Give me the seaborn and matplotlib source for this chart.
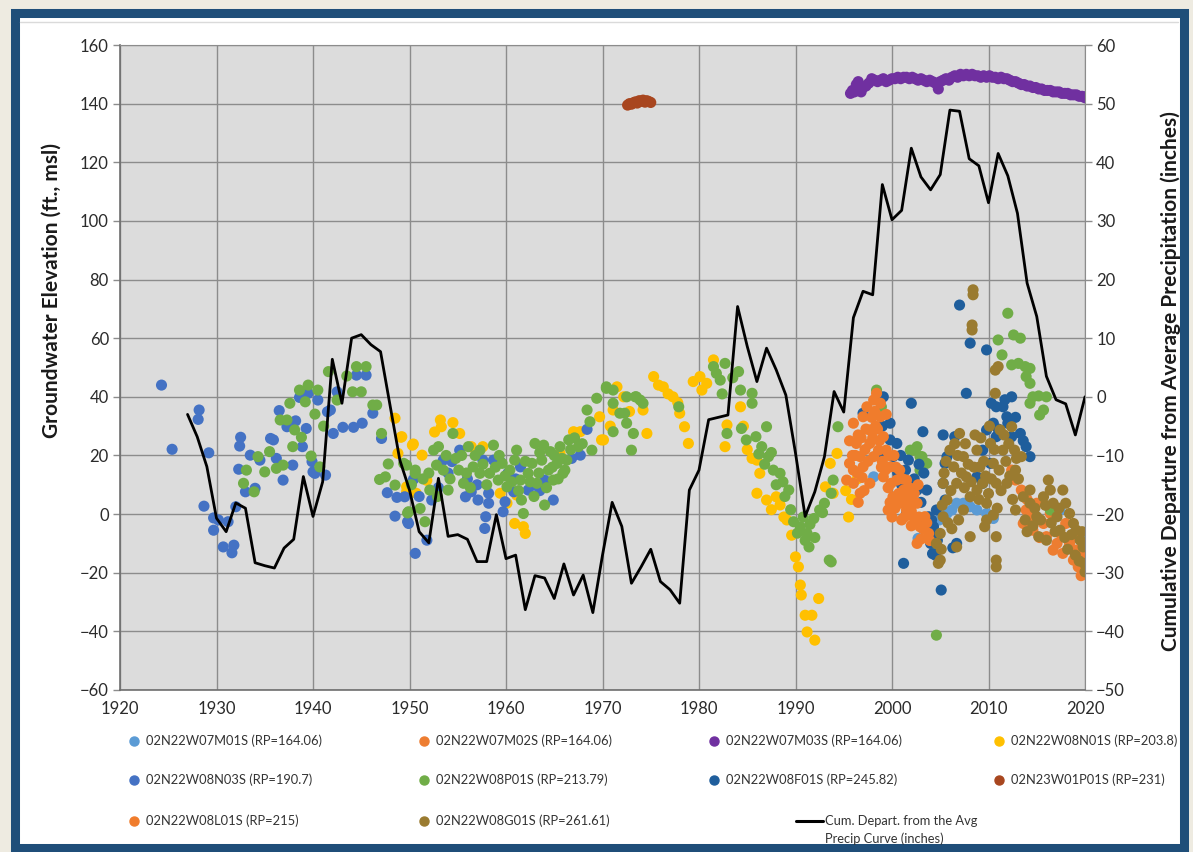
import matplotlib
matplotlib.use('Agg')
import matplotlib.pyplot as plt
from matplotlib.patches import Rectangle
from matplotlib.lines import Line2D
import pandas as pd
import seaborn as sns

sns.set_style('white')
plt.rcParams['font.family'] = ['Lato', 'DejaVu Sans']

# ---- data (year, ft msl) ----
m01s_yr = [1998.1, 2002.7, 2005.7, 2006.2, 2006.7, 2007.4, 2008.1, 2008.8, 2009.8, 2017.4, 2020.2, 2004.9, 2010.5]
m01s_ft = [12.7, -8.3, 0.2, 1.4, 3.7, 3.7, 2.5, 1.4, 0.2, 1.4, -8.9, -2.0, -1.5]

m02s_yr = [2013.4, 2013.9, 2013.6, 2014.3, 2014.6, 2015.0, 2015.7, 2016.0, 2016.4, 2016.7, 2017.1, 2017.7,
           2018.4, 2018.8, 2019.3, 2019.8, 2019.9, 2019.1, 2018.0, 2012.8, 2012.4, 2014.0, 2015.3, 2017.4,
           2018.9, 2019.6, 2020.0]
m02s_ft = [8.2, 1.4, -3.2, -0.9, -5.5, 3.7, -3.2, -7.7, 0.2, -12.3, -10.0, -13.4,
           -10.0, -15.7, -18.0, -19.1, -14.6, -12.3, -3.2, 11.6, 15.0, 5.0, -8.0, -6.5,
           -8.0, -21.0, -17.5]

m03s_yr = [1995.7, 1995.9, 1996.1, 1996.3, 1996.5, 1996.6, 1996.8, 1997.0, 1997.3, 1997.6, 1997.9, 1998.2,
           1998.5, 1998.8, 1999.1, 1999.4, 1999.7, 2000.0, 2000.3, 2000.6, 2000.9, 2001.2, 2001.5, 2001.8,
           2002.1, 2002.4, 2002.7, 2003.0, 2003.3, 2003.6, 2003.9, 2004.2, 2004.5, 2004.8, 2005.0, 2005.3,
           2005.6, 2005.9, 2006.2, 2006.5, 2006.8, 2007.1, 2007.4, 2007.7, 2008.0, 2008.3, 2008.6, 2008.9,
           2009.2, 2009.5, 2009.8, 2010.1, 2010.4, 2010.7, 2011.0, 2011.3, 2011.6, 2011.9, 2012.2, 2012.5,
           2012.8, 2013.1, 2013.4, 2013.7, 2014.0, 2014.3, 2014.6, 2014.9, 2015.2, 2015.5, 2015.8, 2016.1,
           2016.4, 2016.7, 2017.0, 2017.3, 2017.6, 2017.9, 2018.2, 2018.5, 2018.8, 2019.1, 2019.4, 2019.7,
           2020.0, 2020.2]
m03s_ft = [143.5, 144.5, 144.0, 146.5, 147.5, 145.0, 144.0, 145.5, 146.0, 147.0, 148.5, 148.0,
           147.5, 148.0, 148.5, 147.5, 148.0, 148.5, 148.5, 149.0, 148.5, 149.0, 149.0, 148.5,
           149.0, 148.5, 148.0, 148.5, 148.0, 147.5, 148.0, 147.5, 147.0, 145.0, 147.5, 148.0,
           148.5, 148.0, 149.0, 149.5, 149.0, 150.0, 149.5, 150.0, 149.5, 150.0, 149.5, 149.5,
           149.0, 149.5, 149.0, 149.5, 149.0, 149.0, 148.5, 149.0, 148.5, 148.5, 148.0, 147.5,
           147.5, 147.0, 146.5, 146.5, 146.0, 146.0, 145.5, 145.5, 145.0, 145.0, 144.5, 144.5,
           144.5, 144.0, 144.0, 144.0, 143.5, 143.5, 143.5, 143.0, 143.0, 143.0, 142.5, 142.5,
           142.0, 142.5]

n01s_yr = [1948.5, 1949.1, 1950.4, 1948.8, 1949.7, 1953.2, 1953.3, 1954.5, 1949.2, 1950.3, 1951.3, 1955.2,
           1956.4, 1957.6, 1949.7, 1950.7, 1959.4, 1960.1, 1960.9, 1961.8, 1962.0, 1961.1, 1965.6, 1967.0,
           1967.7, 1969.9, 1969.7, 1970.1, 1971.5, 1972.2, 1971.1, 1974.2, 1974.6, 1975.3, 1976.3, 1977.3,
           1978.0, 1978.5, 1978.9, 1979.4, 1980.1, 1980.8, 1981.5, 1980.3, 1982.9, 1982.7, 1984.3, 1986.0,
           1986.3, 1986.0, 1987.0, 1988.0, 1988.4, 1989.1, 1989.6, 1990.0, 1990.3, 1990.5, 1990.6, 1991.0,
           1991.7, 1991.2, 1992.0, 1992.4, 1993.1, 1993.6, 1994.3, 1993.9, 1985.0, 1985.5, 1984.6, 1987.5,
           1988.8, 1995.2, 1995.8, 1996.4, 1995.5, 1951.8, 1952.6, 1970.8, 1972.8, 1976.8, 1975.8, 1977.8]
n01s_ft = [32.7, 26.2, 23.9, 20.7, 7.6, 32.1, 29.8, 31.2, 26.4, 23.5, 20.1, 27.5,
           23.0, 23.0, 9.3, 7.1, 7.1, 3.7, -3.2, -4.3, -6.6, 6.5, 20.7, 28.1,
           28.1, 25.3, 33.2, 25.3, 43.4, 40.0, 35.5, 35.5, 27.5, 46.9, 43.4, 40.0,
           34.4, 29.8, 24.1, 45.2, 46.9, 44.6, 52.6, 42.3, 30.4, 23.0, 36.6, 18.4,
           13.9, 7.1, 4.8, 5.9, 3.1, -2.0, -7.2, -14.6, -18.0, -24.2, -27.6, -34.5,
           -34.5, -40.2, -43.0, -28.8, 9.3, 17.3, 20.7, 7.1, 22.0, 19.0, 30.0, 1.5,
           -1.0, 8.0, 5.0, 12.0, -1.0, 11.5, 28.0, 30.0, 35.0, 41.0, 44.0, 38.0]

n03s_yr = [1924.3, 1925.4, 1928.2, 1928.1, 1929.2, 1928.7, 1929.7, 1930.2, 1929.7, 1931.2, 1930.7, 1931.6,
           1931.8, 1932.0, 1932.5, 1932.4, 1932.3, 1933.0, 1933.5, 1934.0, 1935.6, 1935.9, 1936.2, 1936.5,
           1936.9, 1937.3, 1938.2, 1938.6, 1939.5, 1939.3, 1938.9, 1937.9, 1939.9, 1940.2, 1940.5, 1941.3,
           1941.5, 1942.1, 1942.5, 1943.1, 1944.2, 1945.1, 1944.5, 1945.5, 1946.2, 1947.1, 1947.7, 1948.7,
           1948.5, 1949.8, 1950.6, 1950.4, 1949.9, 1951.8, 1952.3, 1953.5, 1954.4, 1955.2, 1955.8, 1956.4,
           1957.1, 1958.2, 1958.2, 1957.9, 1957.8, 1957.6, 1958.7, 1959.4, 1959.7, 1959.9, 1960.8, 1961.5,
           1962.3, 1964.0, 1964.9, 1966.8, 1967.7, 1968.4, 1949.5, 1934.5, 1941.8, 1940.0, 1951.0, 1953.0,
           1954.0, 1956.0, 1957.0, 1960.2, 1961.0, 1962.8, 1963.5]
n03s_ft = [44.0, 22.1, 35.5, 32.3, 20.9, 2.7, -1.3, -2.0, -5.5, -2.6, -11.2, -13.2,
           -10.6, 2.5, 26.2, 23.2, 15.3, 7.6, 20.1, 8.8, 25.8, 25.3, 19.0, 35.3,
           11.6, 29.8, 31.8, 39.8, 41.2, 29.2, 23.0, 16.7, 17.9, 13.9, 38.9, 13.3,
           34.9, 27.5, 41.7, 29.6, 29.6, 31.0, 47.4, 47.4, 34.4, 25.8, 7.3, 5.7,
           -0.7, -2.6, -13.4, 11.8, -3.2, -8.9, 4.8, 18.4, 17.9, 21.8, 5.9, 7.6,
           4.8, 3.7, 7.1, -0.9, -4.9, 18.4, 18.4, 17.9, 0.8, 4.2, 7.6, 16.1,
           8.2, 11.6, 4.8, 19.0, 20.1, 28.9, 5.9, 18.4, 35.5, 14.4, 6.0, 9.0,
           14.0, 12.0, 10.0, 14.0, 12.0, 10.0, 8.0]

p01s_yr = [1933.1, 1932.8, 1933.9, 1934.3, 1935.0, 1935.5, 1936.2, 1936.9, 1936.6, 1937.3, 1937.6, 1938.1,
           1937.9, 1938.8, 1938.6, 1939.5, 1939.2, 1940.5, 1940.2, 1939.8, 1940.7, 1941.1, 1941.6, 1942.5,
           1943.5, 1944.1, 1945.0, 1944.5, 1945.5, 1946.2, 1946.6, 1947.1, 1946.9, 1947.5, 1947.8, 1948.5,
           1949.4, 1949.8, 1950.6, 1949.7, 1949.9, 1950.6, 1951.1, 1951.6, 1952.1, 1952.5, 1952.8, 1953.0,
           1953.5, 1954.0, 1954.5, 1955.1, 1955.6, 1956.1, 1956.6, 1957.3, 1957.3, 1958.3, 1958.7, 1959.2,
           1959.6, 1960.1, 1960.4, 1960.9, 1961.1, 1961.5, 1961.6, 1961.8, 1962.3, 1962.7, 1963.0, 1963.2,
           1963.7, 1963.9, 1964.0, 1964.4, 1964.6, 1964.9, 1965.3, 1965.6, 1965.9, 1966.3, 1966.5, 1967.5,
           1968.4, 1968.7, 1968.9, 1969.4, 1970.4, 1971.1, 1971.1, 1971.8, 1972.5, 1973.0, 1973.2, 1973.5,
           1974.2, 1977.9, 1970.4, 1971.1, 1972.5, 1972.3, 1973.4, 1973.9, 1981.5, 1982.7, 1982.2, 1984.1,
           1984.3, 1985.5, 1985.5, 1982.9, 1984.4, 1984.9, 1985.9, 1986.5, 1987.0, 1987.2, 1987.7, 1988.4,
           1988.7, 1989.3, 1989.8, 1990.5, 1991.2, 1991.4, 1991.9, 1992.5, 1993.0, 1993.5, 1993.7, 1994.4,
           1993.9, 1998.4, 1998.9, 2002.2, 2002.9, 2003.6, 2004.6, 2004.5, 2012.0, 2011.0, 2011.4, 2012.6,
           2013.3, 2012.4, 2013.1, 2013.8, 2014.3, 2013.9, 2014.3, 2014.6, 2015.2, 2016.0, 2015.7, 2015.3,
           2014.3, 1993.7, 2001.9, 2002.6, 2003.1, 2002.9, 2016.4, 1990.8, 1991.5, 1992.0, 1992.8, 1990.2,
           1991.0, 1986.2, 1986.8, 1987.5, 1988.0, 1988.9, 1989.5, 1981.8, 1982.4, 1983.5,
           1950.2, 1951.4, 1952.0, 1952.9, 1953.8, 1954.2, 1954.8, 1955.4, 1955.9, 1956.3, 1956.8, 1957.6,
           1958.0, 1958.9, 1959.3, 1959.9, 1960.6, 1961.3, 1962.0, 1962.5, 1962.9, 1963.4, 1963.5, 1964.2,
           1964.8, 1965.0, 1965.4, 1965.8, 1966.1, 1966.7, 1967.1, 1967.9]
p01s_ft = [15.0, 10.5, 7.6, 19.6, 14.4, 21.3, 15.6, 16.7, 32.1, 32.1, 37.8, 28.7,
           23.0, 26.2, 42.3, 44.0, 38.3, 42.3, 34.1, 19.8, 16.1, 30.0, 48.6, 38.9,
           47.1, 41.7, 41.7, 50.3, 50.3, 37.2, 37.2, 27.5, 11.8, 12.7, 17.1, 9.9,
           17.3, 0.4, 15.0, 16.7, 0.8, 13.9, 1.9, -2.6, 8.2, 21.8, 16.7, 23.0,
           15.0, 8.2, 27.5, 15.0, 10.5, 23.0, 16.1, 21.8, 13.9, 13.9, 23.5, 11.6,
           17.3, 9.3, 15.0, 18.4, 21.8, 11.6, 4.8, 0.2, 13.9, 17.3, 24.1, 10.5,
           18.4, 23.5, 3.1, 15.0, 21.3, 11.6, 17.3, 23.0, 13.9, 18.4, 25.3, 23.0,
           35.5, 31.5, 21.8, 39.5, 42.9, 37.8, 28.1, 34.4, 31.0, 21.8, 27.5, 40.0,
           37.8, 36.6, 43.4, 42.3, 40.0, 34.4, 40.0, 38.9, 50.3, 51.4, 45.7, 48.6,
           42.3, 41.2, 37.8, 27.5, 29.2, 25.3, 26.4, 23.0, 29.8, 19.6, 15.0, 13.9,
           11.0, 8.2, -2.6, -4.3, -6.6, -11.2, -1.5, 1.4, 3.7, -15.7, 7.1, 29.8,
           11.6, 42.3, 36.6, 21.8, 19.6, 17.3, -41.3, -13.4, 68.5, 59.4, 54.3, 61.1,
           60.0, 50.9, 51.4, 50.3, 49.7, 46.9, 44.6, 40.0, 40.3, 40.0, 35.5, 33.8,
           37.8, -16.3, 21.8, 23.0, 19.6, 15.0, 1.4, -1.0, -3.5, -8.0, 0.5, -6.5,
           -9.0, 20.5, 17.0, 21.0, 10.0, 6.0, 1.5, 48.0, 41.0, 46.5,
           10.0, 12.0, 14.0, 6.0, 20.0, 12.0, 19.0, 20.0, 14.0, 9.0, 20.0, 17.0,
           10.0, 16.0, 20.0, 13.0, 11.0, 8.0, 18.0, 11.0, 6.0, 14.0, 21.0, 9.0,
           16.0, 20.0, 12.0, 19.0, 15.0, 22.0, 26.0, 24.0]

f01s_yr = [1997.0, 1999.1, 1999.8, 1999.8, 2000.1, 1998.8, 2000.5, 2001.7, 2002.0, 2001.2, 2001.5, 2002.6,
           2003.2, 2003.6, 2003.8, 2003.9, 2004.3, 2004.6, 2005.1, 2005.3, 2005.7, 2006.5, 2007.0, 2008.1,
           2009.8, 2007.7, 2010.3, 2010.8, 2011.5, 2012.4, 2011.9, 2012.4, 2013.3, 2013.9, 2014.3, 2010.8,
           2009.8, 2009.4, 2008.8, 2009.4, 2010.2, 2005.5, 2005.3, 2005.5, 2006.7, 2004.0, 2004.2, 2003.6,
           2004.4, 2001.0, 2000.6, 2006.3, 1999.0, 2000.9, 2001.4, 2002.3, 2002.8, 2003.3, 2003.0, 2004.1,
           2004.5, 2004.7, 2010.5, 2011.0, 2011.7, 2012.0, 2012.8, 2013.6]
f01s_ft = [34.4, 40.0, 31.0, 25.3, 19.6, 19.6, 24.1, 18.4, 37.8, -16.8, 0.2, 8.2,
           28.1, 8.2, -0.9, -6.6, -4.3, 1.4, -25.9, 27.0, 19.6, 26.4, 71.3, 58.3,
           56.0, 41.2, 37.8, 36.6, 36.6, 40.0, 33.2, 26.4, 27.5, 23.0, 19.6, 26.4,
           28.7, 21.8, 12.7, 10.5, 17.3, 17.3, 10.5, 4.8, -10.0, -10.0, -13.5, -3.0,
           -8.0, 10.0, 14.0, -11.5, 30.0, 20.0, 15.0, 12.0, 17.0, 14.0, 4.0, -2.0,
           -14.0, -9.0, 31.0, 29.0, 39.0, 31.0, 33.0, 25.0]

w23_yr = [1972.6, 1972.8, 1973.0, 1973.2, 1973.4, 1973.6, 1973.8, 1974.0, 1974.2, 1974.4, 1974.6, 1974.8, 1975.0]
w23_ft = [139.5, 140.0, 139.8, 140.3, 140.6, 140.2, 141.0, 140.8, 141.2, 140.5, 141.0, 140.7, 140.4]

l01s_yr = [1996.0, 1996.3, 1997.0, 1997.4, 1997.7, 1998.1, 1998.4, 1998.8, 1999.1, 1998.6, 1996.7, 1995.6,
           1995.3, 1996.0, 1996.7, 1997.0, 1996.0, 1999.4, 1999.8, 1999.9, 2000.5, 2000.5, 2000.8, 2001.2,
           2001.5, 2001.9, 2002.2, 2002.6, 2002.9, 2003.4, 2003.8, 2002.6, 2000.1, 1999.6, 1999.1, 1998.1,
           1997.7, 2000.8, 2001.5, 1997.7, 1998.8, 1996.5, 1997.2, 1998.3, 1999.4, 1996.9, 2000.2, 2001.0,
           2002.0, 2003.0, 2000.0, 1996.2, 1996.8, 1997.3, 1997.5, 1997.9, 1998.0, 1998.2, 1998.5, 1998.7,
           1999.0, 1999.3, 1999.6, 1999.8, 2000.3, 2000.7, 2001.0, 2001.3, 2001.7, 2002.0, 2002.4, 2002.8,
           2003.2, 2003.6, 2003.9, 1996.4, 1995.9, 1995.6, 1997.1, 1996.5, 1998.9, 1999.7, 2000.4, 2001.1,
           2001.8, 2002.3, 2002.7]
l01s_ft = [31.0, 24.1, 33.2, 36.6, 28.7, 38.9, 41.2, 33.2, 26.4, 21.8, 19.6, 17.3,
           11.6, 10.5, 7.1, 16.1, 15.0, 21.8, 16.1, 10.5, 11.6, 5.9, 3.7, 8.2,
           1.4, 5.9, -0.9, 3.7, -4.3, -0.9, -6.6, -10.0, 5.9, 1.4, 12.7, 19.6,
           10.5, 15.0, 11.6, 24.1, 37.8, 27.0, 22.0, 30.0, 34.0, 12.5, 20.0, -2.0,
           -4.0, -8.5, -1.0, 20.0, 26.0, 29.0, 18.0, 33.0, 26.0, 35.0, 29.0, 25.0,
           18.0, 15.0, 9.0, 4.0, 2.0, 7.0, 5.0, -1.0, 3.0, 1.0, -3.0, -1.0,
           -5.0, -3.0, -9.0, 14.0, 20.0, 25.0, 8.0, 4.0, 16.0, 20.0, 16.0, 12.0,
           9.0, 7.0, 10.0]

g01s_yr = [2008.4, 2008.4, 2008.3, 2008.3, 2010.7, 2010.7, 2005.0, 2005.0, 2004.8, 2004.6, 2005.3, 2005.3,
           2005.7, 2006.0, 2006.4, 2006.7, 2007.0, 2007.4, 2007.7, 2008.1, 2007.4, 2006.7, 2008.1, 2008.8,
           2009.1, 2009.4, 2009.8, 2010.2, 2010.5, 2010.8, 2010.8, 2010.8, 2010.8, 2011.2, 2011.5, 2011.9,
           2012.4, 2012.7, 2012.8, 2009.8, 2008.8, 2009.6, 2010.5, 2011.0, 2013.4, 2014.3, 2014.3, 2015.0,
           2015.7, 2016.2, 2016.4, 2016.7, 2017.1, 2017.4, 2017.7, 2018.0, 2018.4, 2018.8, 2019.1, 2019.5,
           2019.8, 2019.9, 2020.0, 2013.6, 2012.8, 2015.2, 2016.0, 2005.1, 2005.2, 2005.4, 2005.6, 2005.8,
           2006.1, 2006.2, 2006.5, 2006.8, 2006.9, 2007.2, 2007.5, 2007.6, 2007.9, 2008.2, 2008.5, 2008.6,
           2009.0, 2009.2, 2009.5, 2009.7, 2010.0, 2010.1, 2010.3, 2010.6, 2010.9, 2011.1, 2011.3, 2011.6,
           2011.8, 2012.1, 2012.2, 2012.5, 2012.9, 2013.1, 2013.8, 2014.0, 2014.6, 2014.8, 2015.4, 2015.9,
           2016.5, 2016.9, 2017.3, 2017.9, 2018.2, 2018.6, 2019.0, 2019.4, 2019.7]
g01s_ft = [76.5, 74.8, 64.5, 62.8, 49.1, 41.2, -6.6, -15.7, -16.8, -10.0, -0.9, 10.5,
           4.8, 21.8, 16.1, 10.5, 27.5, 19.6, 12.7, 5.9, 1.4, -11.2, -7.7, 21.8,
           16.1, 10.5, 3.7, 24.1, 17.3, 10.5, -7.7, -15.7, -18.0, 28.7, 21.8, 10.5,
           29.8, 21.8, 15.0, -2.0, 8.2, -4.3, -0.3, 50.3, 19.6, 8.2, 3.7, -0.9,
           5.9, 11.6, 8.2, 3.7, -0.9, -5.5, 8.2, 3.7, 0.2, -3.2, -5.5, -8.9,
           -11.2, -16.8, -19.7, 5.9, 1.4, -7.7, -8.9, -12.0, 3.0, 14.0, 18.0, -3.0,
           8.0, -5.0, 24.0, 20.0, -2.0, 14.0, 9.0, 24.0, 17.0, 11.0, 16.0, 27.0,
           5.0, 26.0, 18.0, 13.0, 7.0, 30.0, 12.0, 22.0, 2.0, 15.0, 8.0, 27.0,
           18.0, 24.0, 13.0, 5.0, 19.0, 12.0, -2.0, -6.0, -4.0, 2.0, -2.0, 3.0,
           -3.0, -6.0, 2.0, -8.0, -12.0, -7.0, -14.0, -16.0, -6.0]

# cumulative departure from average precipitation (inches), one value per year
precip_yr = list(range(1927, 2021))
precip_in = [-3.0, -6.8, -11.9, -20.7, -23.0, -18.1, -19.0, -28.3, -28.8, -29.2, -25.8, -24.3,
             -13.6, -20.4, -14.5, 6.4, -1.1, 10.0, 10.6, 8.9, 7.7, -1.6, -10.8, -15.9,
             -23.0, -24.9, -13.9, -23.8, -23.5, -24.3, -28.1, -28.1, -20.1, -27.6, -27.0, -36.3,
             -30.5, -30.9, -34.4, -28.5, -33.8, -30.4, -36.8, -27.0, -18.0, -22.1, -31.8, -29.0,
             -26.0, -31.5, -32.9, -35.2, -15.9, -12.5, -3.9, -3.5, -3.1, 15.4, 8.6, 2.6,
             8.3, 4.6, 0.3, -9.6, -20.4, -16.2, -10.2, 0.9, -2.6, 13.5, 18.0, 17.4,
             36.2, 30.2, 31.8, 42.4, 37.5, 35.3, 37.9, 48.9, 48.7, 40.6, 39.4, 33.1,
             41.5, 37.7, 31.3, 19.4, 13.7, 3.5, -0.5, -1.2, -6.5, 0.0]

well_names = ['02N22W07M01S (RP=164.06)', '02N22W07M02S (RP=164.06)', '02N22W07M03S (RP=164.06)',
              '02N22W08N01S (RP=203.8)', '02N22W08N03S (RP=190.7)', '02N22W08P01S (RP=213.79)',
              '02N22W08F01S (RP=245.82)', '02N23W01P01S (RP=231)', '02N22W08L01S (RP=215)',
              '02N22W08G01S (RP=261.61)']
well_colors = ['#5B9BD5', '#ED7D31', '#7030A0', '#FFC000', '#4472C4', '#70AD47',
               '#1F5E9C', '#A8461F', '#F07C2C', '#9A7B30']
well_years = [m01s_yr, m02s_yr, m03s_yr, n01s_yr, n03s_yr, p01s_yr, f01s_yr, w23_yr, l01s_yr, g01s_yr]
well_elev = [m01s_ft, m02s_ft, m03s_ft, n01s_ft, n03s_ft, p01s_ft, f01s_ft, w23_ft, l01s_ft, g01s_ft]

frames = []
for name, yr, ft in zip(well_names, well_years, well_elev):
    frames.append(pd.DataFrame({'year': yr, 'elev': ft, 'well': name}))
df = pd.concat(frames, ignore_index=True)
palette = dict(zip(well_names, well_colors))

W, H = 1193, 852
fig = plt.figure(figsize=(W / 100, H / 100), dpi=100)
fig.patch.set_facecolor('#EEEBE1')

# blue report frame (behind the axes)
fig.patches.append(Rectangle((14.5 / W, 1 - 848 / H), (1183.5 - 14.5) / W, (848 - 12.5) / H,
                             transform=fig.transFigure, facecolor='white', edgecolor='#1F4E79',
                             linewidth=6.5, zorder=-5))
# faint rule near the top of the page
fig.add_artist(Line2D([20 / W, 1178 / W], [1 - 22 / H, 1 - 22 / H], color='#DADADA',
                      linewidth=1, transform=fig.transFigure, zorder=-4))

ax = fig.add_axes([120 / W, 1 - 690 / H, 965 / W, 645 / H])
ax.set_facecolor('#DCDCDC')

sns.scatterplot(data=df, x='year', y='elev', hue='well', palette=palette, s=64,
                linewidth=0, legend=False, ax=ax, zorder=2)

ax.set_xlim(1920, 2020)
ax.set_ylim(-60, 160)
ax.set_xticks(range(1920, 2021, 10))
ax.set_yticks(range(-60, 161, 20))
ax.grid(True, color='#8C8C8C', linewidth=1)
ax.set_axisbelow(True)
for s in ['top', 'right']:
    ax.spines[s].set_color('#8C8C8C')
for s in ['left', 'bottom']:
    ax.spines[s].set_color('#6E6E6E')
    ax.spines[s].set_linewidth(1.2)
ax.tick_params(axis='both', direction='out', length=5, width=1, color='#8C8C8C',
               labelsize=12, labelcolor='#2B2B2B', pad=3)
ax.set_xlabel('')
ax.set_ylabel('Groundwater Elevation (ft., msl)', fontsize=15, fontweight='bold', color='#1A1A1A')
ax.yaxis.set_label_coords(-0.060, 0.62)

ax2 = ax.twinx()
sns.lineplot(x=precip_yr, y=precip_in, color='black', linewidth=2.0, ax=ax2, zorder=3)
ax2.set_ylim(-50, 60)
ax2.set_yticks(range(-50, 61, 10))
ax2.tick_params(axis='y', direction='out', length=5, width=1, color='#8C8C8C',
                labelsize=12, labelcolor='#2B2B2B', pad=3)
for s in ax2.spines.values():
    s.set_visible(False)
ax2.set_ylabel('Cumulative Departure from Average Precipitation (inches)', fontsize=15,
               fontweight='bold', color='#1A1A1A')
ax2.yaxis.set_label_coords(1.078, 0.479)

# legend, laid out in rows like the original
leg_x = [134, 424, 714, 999]
leg_y = [741, 780, 821]
for i, (name, c) in enumerate(zip(well_names, well_colors)):
    r, col = divmod(i, 4)
    fig.add_artist(Line2D([leg_x[col] / W], [1 - leg_y[r] / H], marker='o', markersize=6.5,
                          color=c, linestyle='none', transform=fig.transFigure))
    fig.text((leg_x[col] + 12) / W, 1 - leg_y[r] / H, name, fontsize=9.3, color='#333333',
             ha='left', va='center')
fig.add_artist(Line2D([796 / W, 823 / W], [1 - 821 / H, 1 - 821 / H], color='black',
                      linewidth=2.2, transform=fig.transFigure))
fig.text(825 / W, 1 - 821 / H, 'Cum. Depart. from the Avg', fontsize=9.3, color='#333333',
         ha='left', va='center')
fig.text(825 / W, 1 - 839 / H, 'Precip Curve (inches)', fontsize=9.3, color='#333333',
         ha='left', va='center')

fig.savefig('out.png', dpi=100, facecolor=fig.get_facecolor())
